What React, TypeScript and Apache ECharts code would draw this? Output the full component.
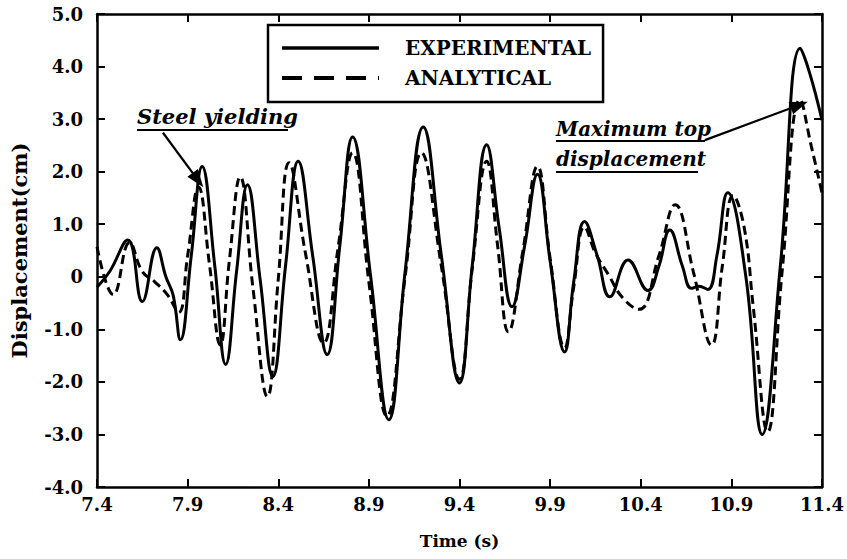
import React, { useEffect, useRef } from "react";
import * as echarts from "echarts";

const expTime = [7.40, 7.47, 7.57, 7.65, 7.73, 7.78, 7.82, 7.86, 7.92, 7.98, 8.05, 8.11, 8.17, 8.23, 8.30, 8.37, 8.44, 8.51, 8.59, 8.67, 8.74, 8.81, 8.91, 9.01, 9.10, 9.20, 9.30, 9.40, 9.47, 9.55, 9.62, 9.69, 9.76, 9.83, 9.90, 9.98, 10.03, 10.09, 10.16, 10.23, 10.33, 10.44, 10.50, 10.56, 10.63, 10.68, 10.72, 10.77, 10.82, 10.88, 10.98, 11.07, 11.17, 11.28, 11.33, 11.40];
const expDisp = [-0.20, 0.10, 0.70, -0.47, 0.55, 0.00, -0.35, -1.20, 0.40, 2.10, 0.20, -1.67, 0.10, 1.75, -0.05, -1.90, 0.20, 2.20, 0.40, -1.48, 0.60, 2.66, 0.00, -2.72, 0.10, 2.85, 0.40, -2.02, 0.20, 2.51, 0.90, -0.57, 0.60, 1.95, 0.30, -1.43, -0.10, 1.05, 0.40, -0.38, 0.32, -0.26, 0.20, 0.89, 0.20, -0.22, -0.18, -0.24, 0.40, 1.60, 0.00, -3.00, 0.20, 4.35, 3.90, 2.98];

const anaTime = [7.40, 7.49, 7.58, 7.65, 7.72, 7.79, 7.85, 7.90, 7.96, 8.02, 8.08, 8.13, 8.19, 8.26, 8.34, 8.40, 8.46, 8.55, 8.65, 8.73, 8.81, 8.90, 9.00, 9.10, 9.19, 9.30, 9.40, 9.47, 9.55, 9.61, 9.67, 9.75, 9.83, 9.90, 9.98, 10.03, 10.09, 10.15, 10.22, 10.30, 10.39, 10.50, 10.59, 10.69, 10.79, 10.85, 10.91, 10.97, 11.02, 11.10, 11.18, 11.28, 11.34, 11.40];
const anaDisp = [0.57, -0.34, 0.65, 0.10, -0.10, -0.35, -0.68, 0.40, 1.71, 0.25, -1.30, 0.30, 1.90, -0.20, -2.28, -0.05, 2.17, 0.45, -1.26, 0.55, 2.36, -0.10, -2.65, 0.00, 2.36, 0.20, -1.95, 0.15, 2.20, 0.60, -1.05, 0.50, 2.10, 0.35, -1.35, -0.20, 0.95, 0.45, 0.05, -0.40, -0.62, 0.40, 1.37, 0.10, -1.30, 0.20, 1.55, 0.95, -0.55, -2.95, 0.10, 3.37, 2.50, 1.60];

const seriesNames = ["EXPERIMENTAL", "ANALYTICAL"];
const xLabels = ["7.4", "7.9", "8.4", "8.9", "9.4", "9.9", "10.4", "10.9", "11.4"];

// annotation arrows: [from, to] in data coordinates [time, displacement]
const yieldArrow = [[7.764, 2.74], [7.957, 1.84]];
const maxArrow = [[10.754, 2.60], [11.275, 3.27]];

const FONT = "'DejaVu Serif', 'Liberation Serif', serif";

export default function App() {
  const ref = useRef<HTMLDivElement>(null);
  useEffect(() => {
    if (!ref.current) return;
    const chart = echarts.init(ref.current, undefined, { renderer: "svg" });
    const expData = expTime.map((t, i) => [t, expDisp[i]]);
    const anaData = anaTime.map((t, i) => [t, anaDisp[i]]);
    const axisLine = { show: true, onZero: false, lineStyle: { color: "#000", width: 2.5 } };
    const tick = { show: true, inside: true, length: 8, lineStyle: { color: "#000", width: 2 } };
    const labelStyle = { color: "#000", fontFamily: FONT, fontWeight: "bold" as const, fontSize: 18 };
    const xFmt = (v: number) => {
      const idx = Math.round((v - 7.4) / 0.5);
      return xLabels[idx] ?? v.toFixed(1);
    };
    const yFmt = (v: number) => (Math.abs(v) < 1e-9 ? "0" : v.toFixed(1));
    const arrowLine = (a: number[][]) => [{ coord: a[0] }, { coord: a[1] }];
    chart.setOption({
      animation: false,
      backgroundColor: "#fff",
      grid: { left: 97, right: 25, top: 14, bottom: 72 },
      xAxis: [
        {
          type: "value", min: 7.4, max: 11.4, interval: 0.5, position: "bottom",
          axisLine, axisTick: tick, splitLine: { show: false },
          axisLabel: { ...labelStyle, margin: 8, formatter: xFmt },
          name: "Time (s)", nameLocation: "middle", nameGap: 45,
          nameTextStyle: { ...labelStyle, fontSize: 17 },
        },
        {
          type: "value", min: 7.4, max: 11.4, interval: 0.5, position: "top",
          axisLine, axisTick: tick, splitLine: { show: false }, axisLabel: { show: false },
        },
      ],
      yAxis: [
        {
          type: "value", min: -4, max: 5, interval: 1, position: "left",
          axisLine, axisTick: tick, splitLine: { show: false },
          axisLabel: { ...labelStyle, margin: 14, formatter: yFmt },
          name: "Displacement(cm)", nameLocation: "middle", nameGap: 67, nameRotate: 90,
          nameTextStyle: { ...labelStyle, fontSize: 21 },
        },
        {
          type: "value", min: -4, max: 5, interval: 1, position: "right",
          axisLine, axisTick: tick, splitLine: { show: false }, axisLabel: { show: false },
        },
      ],
      legend: {
        left: 268, top: 25, orient: "vertical",
        data: [
          { name: seriesNames[0], lineStyle: { width: 3.5, type: "solid" } },
          { name: seriesNames[1], lineStyle: { width: 4, type: [20, 12] } },
        ],
        itemWidth: 97, itemHeight: 14, itemGap: 10,
        itemStyle: { opacity: 0 },
        padding: [13, 12, 14, 12],
        borderColor: "#000", borderWidth: 2.5, borderRadius: 0,
        textStyle: { color: "#000", fontFamily: FONT, fontWeight: "bold", fontSize: 20, lineHeight: 20, padding: [0, 0, 0, 21] },
      },
      series: [
        {
          name: seriesNames[0], type: "line", data: expData, smooth: 0.45, symbol: "none",
          lineStyle: { color: "#000", width: 3 }, itemStyle: { color: "#000" },
          markLine: {
            silent: true, symbol: ["none", "triangle"], symbolSize: [13, 18],
            lineStyle: { color: "#000", width: 2.2, type: "solid" }, label: { show: false },
            data: [arrowLine(yieldArrow), arrowLine(maxArrow)],
          },
          z: 3,
        },
        {
          name: seriesNames[1], type: "line", data: anaData, smooth: 0.45, symbol: "none",
          lineStyle: { color: "#000", width: 3, type: [9, 5] }, itemStyle: { color: "#000" },
          z: 2,
        },
      ],
      graphic: [
        { type: "text", left: 137, top: 106, style: { text: "Steel yielding", fill: "#000", font: `italic bold 21px ${FONT}` } },
        { type: "line", shape: { x1: 137, y1: 130, x2: 288, y2: 130 }, style: { stroke: "#000", lineWidth: 2 } },
        { type: "text", left: 556, top: 119, style: { text: "Maximum top", fill: "#000", font: `italic bold 20px ${FONT}` } },
        { type: "line", shape: { x1: 556, y1: 141, x2: 705, y2: 141 }, style: { stroke: "#000", lineWidth: 2 } },
        { type: "text", left: 556, top: 149, style: { text: "displacement", fill: "#000", font: `italic bold 20px ${FONT}` } },
        { type: "line", shape: { x1: 556, y1: 172, x2: 698, y2: 172 }, style: { stroke: "#000", lineWidth: 2 } },
      ],
    });
    return () => chart.dispose();
  }, []);
  return <div ref={ref} style={{ width: 847, height: 559, position: "absolute", left: 0, top: 0 }} />;
}
